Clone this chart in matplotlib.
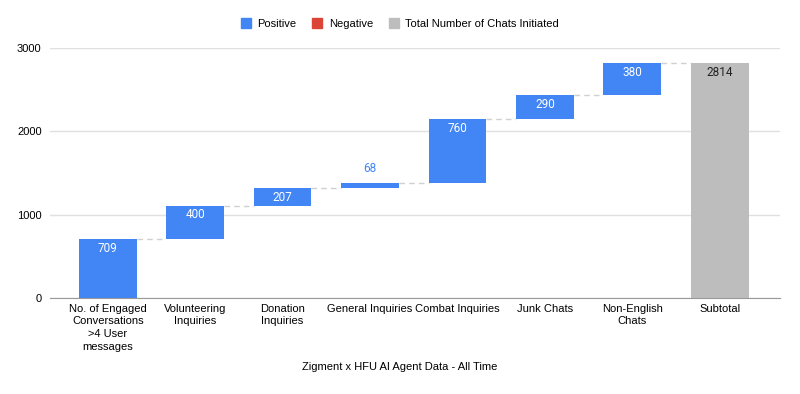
import numpy as np
import matplotlib
matplotlib.use("Agg")
import matplotlib.pyplot as plt
from matplotlib.patches import Patch

plt.rcParams['font.family'] = ['Liberation Sans', 'DejaVu Sans']

categories = ["No. of Engaged\nConversations\n>4 User\nmessages", "Volunteering\nInquiries",
              "Donation\nInquiries", "General Inquiries", "Combat Inquiries",
              "Junk Chats", "Non-English\nChats", "Subtotal"]
steps = [709, 400, 207, 68, 760, 290, 380]
total = 2814

blue = "#4285F4"
gray = "#BDBDBD"
red = "#DB4437"

fig = plt.figure(figsize=(8, 3.94), dpi=100)
ax = fig.add_axes([0.0625, 0.2437, 0.9125, 0.6345])

bottoms = np.concatenate([[0], np.cumsum(steps)[:-1]])
tops = np.cumsum(steps)
x = np.arange(len(categories))
w = 0.66

ax.bar(x[:-1], steps, bottom=bottoms, width=w, color=blue, zorder=3)
ax.bar(x[-1], total, width=w, color=gray, zorder=3)

# connector lines between bars
levels = list(tops)
for i in range(len(levels)):
    ax.plot([x[i] + w / 2, x[i + 1] - w / 2], [levels[i], levels[i]],
            color="#d0d0d0", ls=(0, (4, 3)), lw=1, zorder=2)

# value labels
for i, v in enumerate(steps):
    if v < 150:
        ax.text(x[i], tops[i] + 170, str(v), ha="center", va="center",
                color=blue, fontsize=8.5, family="Roboto")
    else:
        ax.text(x[i], tops[i] - 110, str(v), ha="center", va="center",
                color="white", fontsize=8.5, family="Roboto")
ax.text(x[-1], total - 110, str(total), ha="center", va="center",
        color="#222222", fontsize=8.5, family="Roboto")

ax.set_xlim(-0.66, 7.69)
ax.set_ylim(0, 3000)
ax.set_yticks([0, 1000, 2000, 3000])
ax.set_xticks(x)
ax.set_xticklabels(categories, fontsize=8, linespacing=1.35)
ax.tick_params(axis="y", labelsize=8, length=0, pad=6)
ax.tick_params(axis="x", length=0, pad=4)
ax.grid(axis="y", color="#e0e0e0", lw=1, zorder=0)
for s in ["top", "right", "left"]:
    ax.spines[s].set_visible(False)
ax.spines["bottom"].set_color("#999999")
ax.spines["bottom"].set_zorder(4)

fig.text(0.5, 0.06, "Zigment x HFU AI Agent Data - All Time", ha="center", fontsize=8)

handles = [Patch(color=blue, label="Positive"), Patch(color=red, label="Negative"),
           Patch(color=gray, label="Total Number of Chats Initiated")]
fig.legend(handles=handles, loc="center", bbox_to_anchor=(0.5, 0.94), ncol=3,
           frameon=False, fontsize=8, handlelength=0.9, handleheight=0.9,
           handletextpad=0.6, columnspacing=1.4)

fig.savefig("out.png", dpi=100)
